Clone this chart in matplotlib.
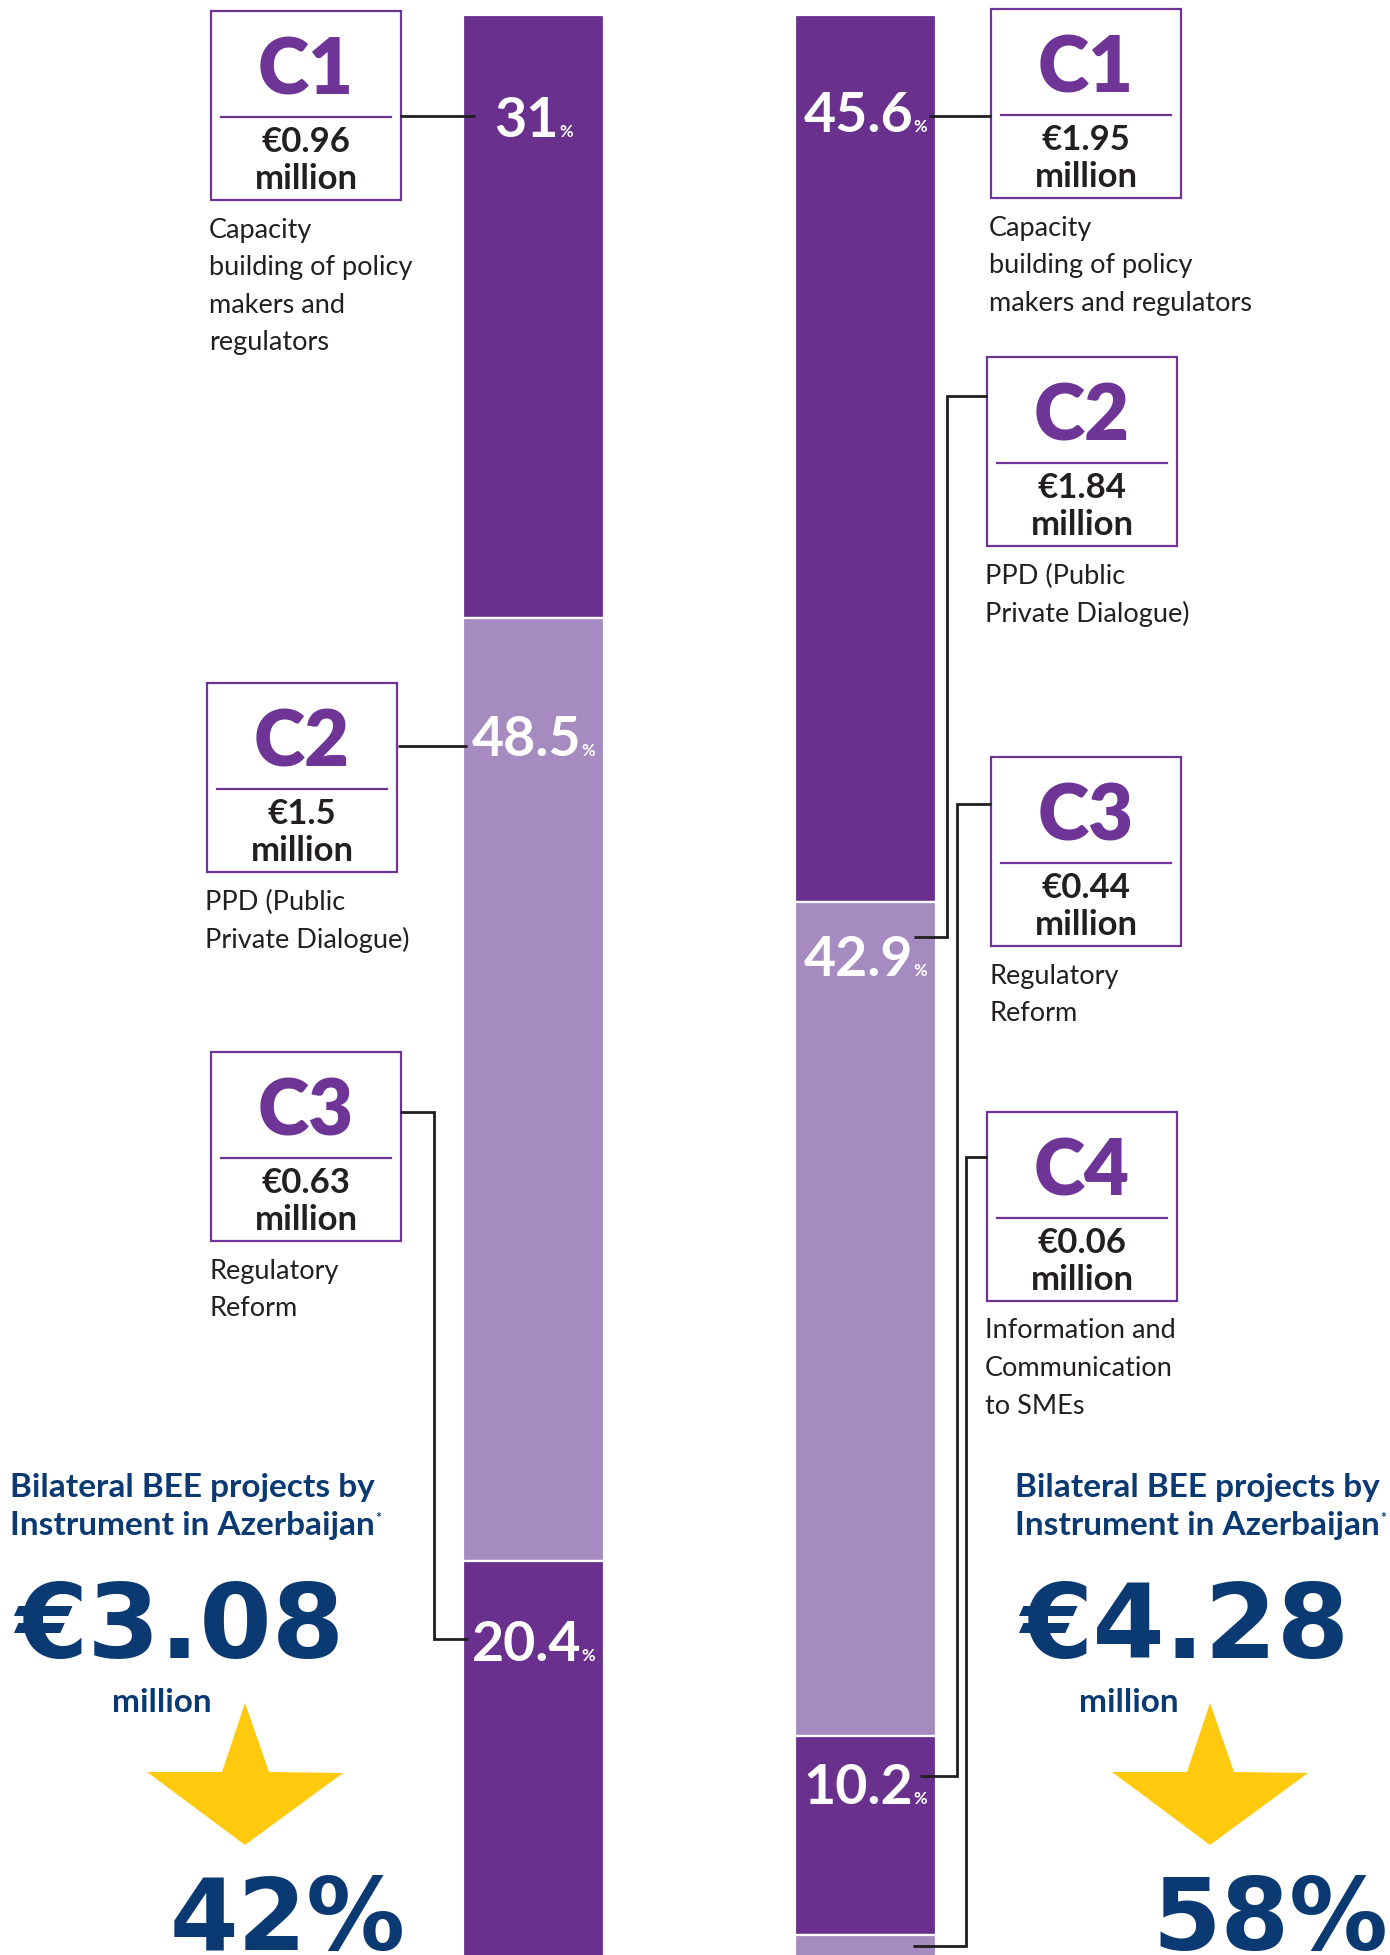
import matplotlib
matplotlib.use("Agg")
import matplotlib.pyplot as plt
from matplotlib.patches import Rectangle, Polygon
import numpy as np

# ---------------- data ----------------
left_codes = ["C1", "C2", "C3"]
left_amounts = [0.96, 1.5, 0.63]
left_shares = [31, 48.5, 20.4]
left_descs = [["Capacity", "building of policy", "makers and", "regulators"],
              ["PPD (Public", "Private Dialogue)"],
              ["Regulatory", "Reform"]]

right_codes = ["C1", "C2", "C3", "C4"]
right_amounts = [1.95, 1.84, 0.44, 0.06]
right_shares = [45.6, 42.9, 10.2, 1.3]
right_descs = [["Capacity", "building of policy", "makers and regulators"],
               ["PPD (Public", "Private Dialogue)"],
               ["Regulatory", "Reform"],
               ["Information and", "Communication", "to SMEs"]]

title_lines = ["Bilateral BEE projects by", "Instrument in Azerbaijan"]
totals = [3.08, 4.28]
total_shares = [42, 58]

# ---------------- style ----------------
W, H = 1390, 1955
DARK = "#69318D"
LIGHT = "#A58BBF"
BOXC = "#6E3596"
NAVY = "#0B3A72"
TXT = "#231F20"
YEL = "#FFC90D"
FONT = ["Lato", "DejaVu Sans"]
BIG = ["DejaVu Sans"]

plt.rcParams["font.family"] = FONT

fig = plt.figure(figsize=(W / 100, H / 100), dpi=100)
fig.patch.set_facecolor("white")
ov = fig.add_axes([0, 0, 1, 1])
ov.set_xlim(0, W)
ov.set_ylim(H, 0)
ov.axis("off")
ov.set_zorder(3)


def make_bar_axes(x0, x1, y_top, y_bot):
    ax = fig.add_axes([x0 / W, 1 - y_bot / H, (x1 - x0) / W, (y_bot - y_top) / H])
    ax.set_xlim(-0.5, 0.5)
    ax.set_ylim(100, 0)
    ax.axis("off")
    return ax


def to_ov(ax, yval):
    disp = ax.transData.transform((0, yval))
    return ov.transData.inverted().transform(disp)[1]


renderer = fig.canvas.get_renderer()


def draw_panel(ax, shares, label_offsets, bar_cx):
    bottoms = np.concatenate([[0], np.cumsum(shares)[:-1]])
    colors = [DARK if i % 2 == 0 else LIGHT for i in range(len(shares))]
    ax.bar(0, shares, bottom=bottoms, width=1.0, color=colors,
           edgecolor="white", linewidth=1.6)
    tops = [to_ov(ax, b) for b in bottoms]
    for s, top, off in zip(shares, tops, label_offsets):
        if off is None:
            continue
        base = top + off
        t1 = ov.text(0, base, f"{s:g}", fontsize=40, fontweight="bold",
                     color="white", ha="left", va="baseline", zorder=5)
        t2 = ov.text(0, base, "%", fontsize=12, fontweight="bold",
                     color="white", ha="left", va="baseline", zorder=5)
        w1 = t1.get_window_extent(renderer).width
        w2 = t2.get_window_extent(renderer).width
        start = bar_cx - (w1 + w2) / 2
        t1.set_x(start)
        t2.set_x(start + w1)
    return tops


def draw_box(x, y, code, amount, desc):
    bw, bh = 190, 189
    ov.add_patch(Rectangle((x, y), bw, bh, fill=False, ec=BOXC, lw=1.6, zorder=4))
    ov.plot([x + 10, x + bw - 10], [y + 106, y + 106], color=BOXC, lw=1.6, zorder=4)
    cx = x + bw / 2
    ov.text(cx, y + 61, code, fontsize=56, fontweight="heavy", color=BOXC,
            ha="center", va="center", zorder=5)
    ov.text(cx, y + 131, f"€{amount:g}", fontsize=25, fontweight="bold",
            color=TXT, ha="center", va="center", zorder=5)
    ov.text(cx, y + 168, "million", fontsize=25, fontweight="bold",
            color=TXT, ha="center", va="center", zorder=5)
    for i, line in enumerate(desc):
        ov.text(x - 2, y + bh + 30 + i * 37.5, line, fontsize=19.5, color=TXT,
                ha="left", va="center", zorder=5)


def connector(points):
    xs, ys = zip(*points)
    ov.plot(xs, ys, color="#1f1f1f", lw=2.0, zorder=4,
            solid_joinstyle="miter", solid_capstyle="butt")


# ---------------- left panel ----------------
axL = make_bar_axes(463, 604, 15, 1960)
topsL = draw_panel(axL, left_shares, [122, 138, 100], (463 + 604) / 2)
boxesL = [(211, 11), (207, 683), (211, 1052)]
for (bx, by), c, a, d in zip(boxesL, left_codes, left_amounts, left_descs):
    draw_box(bx, by, c, a, d)
connector([(400, topsL[0] + 101), (475, topsL[0] + 101)])
connector([(398, topsL[1] + 128), (467, topsL[1] + 128)])
connector([(400, 1112), (434, 1112), (434, topsL[2] + 78), (468, topsL[2] + 78)])

# ---------------- right panel ----------------
axR = make_bar_axes(795, 936, 15, 1960)
topsR = draw_panel(axR, right_shares, [117, 74, 68, None], (795 + 936) / 2)
boxesR = [(991, 9), (987, 357), (991, 757), (987, 1112)]
for (bx, by), c, a, d in zip(boxesR, right_codes, right_amounts, right_descs):
    draw_box(bx, by, c, a, d)
connector([(929, topsR[0] + 101), (991, topsR[0] + 101)])
connector([(914, topsR[1] + 35), (947, topsR[1] + 35), (947, 396), (987, 396)])
connector([(920, topsR[2] + 40), (957, topsR[2] + 40), (957, 804), (991, 804)])
connector([(913, topsR[3] + 11), (966, topsR[3] + 11), (966, 1157), (987, 1157)])

# ---------------- summary blocks ----------------
def summary(x_title, x_total, cx_million, star_cx, cx_share, total, share):
    for i, line in enumerate(title_lines):
        t = ov.text(x_title, 1487 + i * 39, line, fontsize=24, fontweight="bold",
                    color=NAVY, ha="left", va="center", zorder=5)
    w = t.get_window_extent(renderer).width
    ov.text(x_title + w + 1, 1512, "*", fontsize=10, fontweight="bold",
            color=NAVY, ha="left", va="top", zorder=5)
    ov.text(x_total, 1658, f"€{total:.2f}", fontsize=75, fontweight="bold",
            family=BIG, color=NAVY, ha="left", va="baseline", zorder=5)
    ov.text(cx_million, 1702, "million", fontsize=24, fontweight="bold",
            color=NAVY, ha="center", va="center", zorder=5)
    star = [(star_cx, 1703), (star_cx + 24, 1772), (star_cx + 98, 1773),
            (star_cx, 1845), (star_cx - 98, 1772), (star_cx - 23, 1772)]
    ov.add_patch(Polygon(star, closed=True, fc=YEL, ec="none", zorder=4))
    ov.text(cx_share, 1950, f"{share}%", fontsize=71, fontweight="bold",
            family=BIG, color=NAVY, ha="center", va="baseline", zorder=5)


summary(10, 15, 162, 245, 288, totals[0], total_shares[0])
summary(1015, 1020, 1129, 1210, 1270, totals[1], total_shares[1])

fig.savefig("out.png", dpi=100, facecolor="white")
